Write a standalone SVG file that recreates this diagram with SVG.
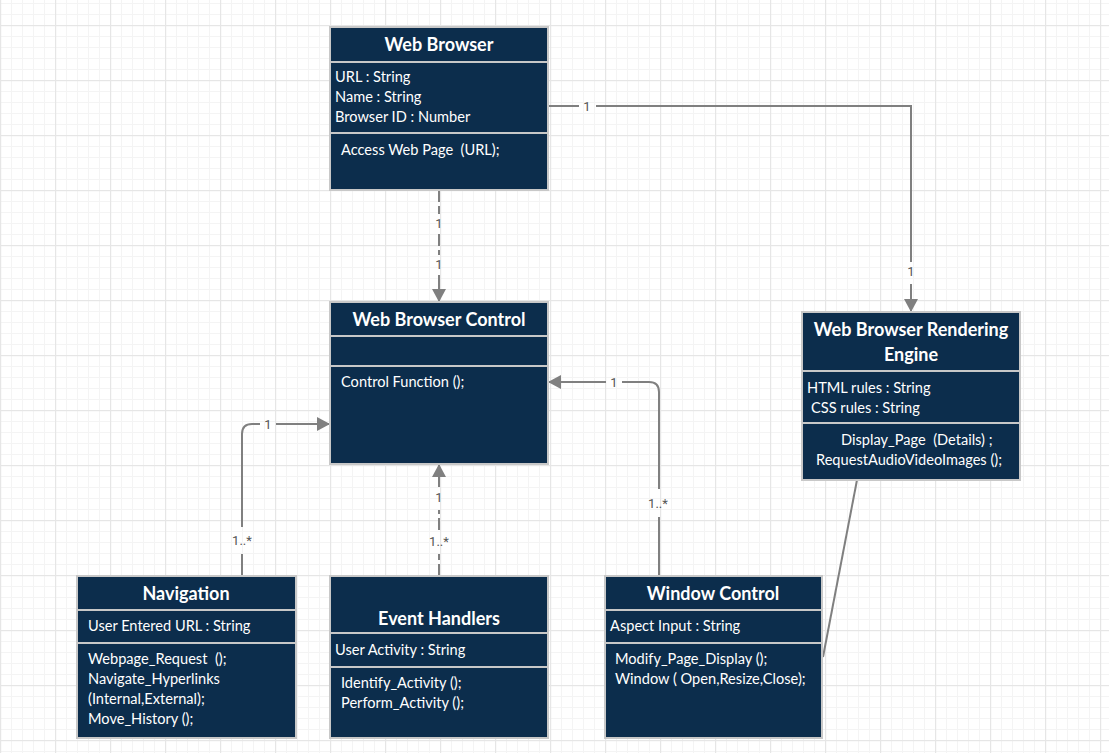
<svg xmlns="http://www.w3.org/2000/svg" width="1109" height="753" viewBox="0 0 1109 753">
<defs>
<pattern id="minor" width="11" height="11" patternUnits="userSpaceOnUse" x="0" y="3">
<rect width="11" height="1" fill="#f4f4f4"/><rect width="1" height="11" fill="#f4f4f4"/>
</pattern>
<pattern id="major" width="55" height="55" patternUnits="userSpaceOnUse" x="0" y="25">
<rect width="55" height="1.2" fill="#e6e6e6"/><rect width="1.2" height="55" fill="#e6e6e6"/>
</pattern>
<marker id="arr" markerWidth="14" markerHeight="14" viewBox="0 0 14 14" refX="13" refY="7" orient="auto" markerUnits="userSpaceOnUse">
<path d="M0 0 L13 7 L0 14 Z" fill="#808080"/>
</marker>
<style>
.box{fill:#0c2d4c;stroke:#c8c8c8;stroke-width:2}
.div{stroke:#c8c8c8;stroke-width:2}
.t{font-family:Lato,"Liberation Sans",sans-serif;font-size:18px;font-weight:bold;fill:#fff;text-anchor:middle}
.b{font-family:Lato,"Liberation Sans",sans-serif;font-size:14.6px;fill:#fff}
.c{fill:none;stroke:#808080;stroke-width:2}
.d{stroke-dasharray:12 4}
.l{font-family:Roboto,"Liberation Sans",sans-serif;font-size:13px;fill:#555;text-anchor:middle}
</style>
</defs>
<rect width="1109" height="753" fill="#fff"/>
<rect width="1109" height="753" fill="url(#minor)"/>
<rect width="1109" height="753" fill="url(#major)"/>

<g id="connectors">
<path class="c" d="M548 106 H579"/>
<path class="c" d="M596 106 H911 V262"/>
<path class="c" d="M911 284 V312" marker-end="url(#arr)"/>
<text class="l" x="587" y="111">1</text>
<text class="l" x="911" y="276">1</text>
<path class="c d" d="M439 190 V214"/>
<path class="c d" d="M439 234 V255"/>
<path class="c" d="M439 275 V302" marker-end="url(#arr)"/>
<text class="l" x="439" y="228">1</text>
<text class="l" x="439" y="269">1</text>
<path class="c" d="M242 576 V554"/>
<path class="c" d="M242 527 V434 Q242 424 252 424 H260"/>
<path class="c" d="M276 424 H330" marker-end="url(#arr)"/>
<text class="l" x="242" y="545">1..*</text>
<text class="l" x="268" y="429">1</text>
<path class="c d" d="M439 576 V554"/>
<path class="c d" d="M439 530 V510"/>
<path class="c" d="M439 487 V464" marker-end="url(#arr)"/>
<text class="l" x="439" y="546">1..*</text>
<text class="l" x="439" y="502">1</text>
<path class="c" d="M659 576 V517"/>
<path class="c" d="M659 489 V392 Q659 382 649 382 H622"/>
<path class="c" d="M606 382 H548" marker-end="url(#arr)"/>
<text class="l" x="658" y="508">1..*</text>
<text class="l" x="614" y="387">1</text>
<path class="c" d="M857 480 L823 657"/>
</g>

<g id="web-browser">
<rect class="box" x="330" y="27" width="218" height="163"/>
<line class="div" x1="330" y1="62" x2="548" y2="62"/>
<line class="div" x1="330" y1="133" x2="548" y2="133"/>
<text class="t" x="439" y="51">Web Browser</text>
<text class="b" x="335" y="82">URL : String</text>
<text class="b" x="335" y="102">Name : String</text>
<text class="b" x="335" y="122">Browser ID : Number</text>
<text class="b" x="341" y="155" xml:space="preserve">Access Web Page  (URL);</text>
</g>

<g id="web-browser-control">
<rect class="box" x="330" y="302" width="218" height="162"/>
<line class="div" x1="330" y1="336" x2="548" y2="336"/>
<line class="div" x1="330" y1="366" x2="548" y2="366"/>
<text class="t" x="439" y="326">Web Browser Control</text>
<text class="b" x="341" y="387">Control Function ();</text>
</g>

<g id="rendering-engine">
<rect class="box" x="802" y="312" width="218" height="168"/>
<line class="div" x1="802" y1="371" x2="1020" y2="371"/>
<line class="div" x1="802" y1="423" x2="1020" y2="423"/>
<text class="t" x="911" y="336">Web Browser Rendering</text>
<text class="t" x="911" y="361">Engine</text>
<text class="b" x="807" y="393">HTML rules : String</text>
<text class="b" x="811" y="413">CSS rules : String</text>
<text class="b" x="841" y="445" xml:space="preserve">Display_Page  (Details) ;</text>
<text class="b" x="816" y="465">RequestAudioVideoImages ();</text>
</g>

<g id="navigation">
<rect class="box" x="77" y="576" width="219" height="162"/>
<line class="div" x1="77" y1="610" x2="296" y2="610"/>
<line class="div" x1="77" y1="643" x2="296" y2="643"/>
<text class="t" x="186" y="600">Navigation</text>
<text class="b" x="88" y="631">User Entered URL : String</text>
<text class="b" x="88" y="664" xml:space="preserve">Webpage_Request  ();</text>
<text class="b" x="88" y="684">Navigate_Hyperlinks</text>
<text class="b" x="88" y="704">(Internal,External);</text>
<text class="b" x="88" y="724">Move_History ();</text>
</g>

<g id="event-handlers">
<rect class="box" x="330" y="576" width="218" height="162"/>
<line class="div" x1="330" y1="633" x2="548" y2="633"/>
<line class="div" x1="330" y1="667" x2="548" y2="667"/>
<text class="t" x="439" y="625">Event Handlers</text>
<text class="b" x="335" y="655">User Activity : String</text>
<text class="b" x="341" y="688">Identify_Activity ();</text>
<text class="b" x="341" y="708">Perform_Activity ();</text>
</g>

<g id="window-control">
<rect class="box" x="605" y="576" width="217" height="162"/>
<line class="div" x1="605" y1="610" x2="822" y2="610"/>
<line class="div" x1="605" y1="643" x2="822" y2="643"/>
<text class="t" x="713" y="600">Window Control</text>
<text class="b" x="610" y="631">Aspect Input : String</text>
<text class="b" x="615" y="664">Modify_Page_Display ();</text>
<text class="b" x="615" y="684">Window ( Open,Resize,Close);</text>
</g>
</svg>
